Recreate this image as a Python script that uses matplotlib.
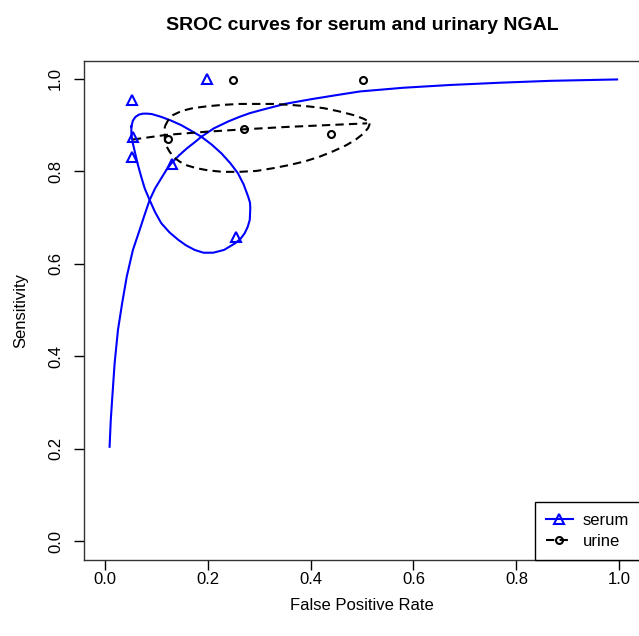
import matplotlib
matplotlib.use('Agg')
import matplotlib.pyplot as plt

plt.rcParams['font.family'] = ['Liberation Sans', 'DejaVu Sans']

# study points
serum_fpr = [0.054, 0.199, 0.055, 0.054, 0.130, 0.256]
serum_sens = [0.955, 1.000, 0.874, 0.832, 0.816, 0.659]
urine_fpr = [0.250, 0.502, 0.270, 0.440, 0.123]
urine_sens = [0.998, 0.998, 0.892, 0.881, 0.870]

# SROC curves
serum_sroc_fpr = [0.0097, 0.012, 0.015, 0.0195, 0.026, 0.034, 0.043, 0.055, 0.068, 0.078,
                  0.0875, 0.098, 0.110, 0.120, 0.130, 0.145, 0.160, 0.175, 0.188, 0.212,
                  0.240, 0.262, 0.282, 0.305, 0.350, 0.400, 0.450, 0.496,
                  0.580, 0.671, 0.770, 0.866, 0.9955]
serum_sroc_sens = [0.204, 0.262, 0.312, 0.385, 0.457, 0.514, 0.572, 0.630, 0.673, 0.707,
                   0.738, 0.763, 0.785, 0.803, 0.818, 0.835, 0.850, 0.863, 0.875, 0.893,
                   0.908, 0.918, 0.926, 0.933, 0.946, 0.956, 0.965, 0.973,
                   0.981, 0.987, 0.992, 0.996, 0.999]
urine_sroc_fpr = [0.055, 0.120, 0.200, 0.270, 0.350, 0.430, 0.510]
urine_sroc_sens = [0.869, 0.879, 0.886, 0.891, 0.896, 0.900, 0.904]

# confidence regions
serum_ell_fpr = [0.052, 0.055, 0.060, 0.067, 0.0745, 0.083, 0.092, 0.110, 0.129, 0.149,
                 0.168, 0.188, 0.208, 0.227, 0.244, 0.259, 0.270, 0.279, 0.2825,
                 0.283, 0.282, 0.278, 0.272, 0.264, 0.253, 0.232, 0.211, 0.192, 0.175,
                 0.158, 0.143, 0.126, 0.110, 0.098,
                 0.0875, 0.078, 0.071, 0.064, 0.058, 0.054, 0.052, 0.052]
serum_ell_sens = [0.897, 0.910, 0.918, 0.923, 0.925, 0.925, 0.924, 0.918, 0.910, 0.900,
                  0.888, 0.875, 0.858, 0.839, 0.818, 0.796, 0.772, 0.745, 0.732,
                  0.720, 0.695, 0.680, 0.666, 0.654, 0.644, 0.630, 0.624, 0.624, 0.630,
                  0.640, 0.652, 0.668, 0.688, 0.712,
                  0.738, 0.763, 0.789, 0.817, 0.846, 0.865, 0.882, 0.897]
urine_ell_fpr = [0.117, 0.123, 0.133, 0.150, 0.172, 0.200, 0.230, 0.262, 0.295, 0.328,
                 0.360, 0.393, 0.425, 0.455, 0.483, 0.503, 0.516, 0.512, 0.503,
                 0.488, 0.470, 0.445, 0.418, 0.390, 0.360, 0.328, 0.295, 0.262, 0.230,
                 0.202, 0.178, 0.160, 0.146, 0.134, 0.126, 0.120, 0.117, 0.117]
urine_ell_sens = [0.897, 0.910, 0.922, 0.931, 0.937, 0.941, 0.944, 0.946, 0.946, 0.946,
                  0.944, 0.941, 0.937, 0.930, 0.922, 0.914, 0.906, 0.894, 0.882,
                  0.869, 0.857, 0.844, 0.832, 0.822, 0.814, 0.807, 0.801, 0.799, 0.799,
                  0.802, 0.807, 0.813, 0.821, 0.831, 0.843, 0.855, 0.868, 0.897]

title = "SROC curves for serum and urinary NGAL"
xlabel = "False Positive Rate"
ylabel = "Sensitivity"
ticks = [0.0, 0.2, 0.4, 0.6, 0.8, 1.0]
tick_labels = ["0.0", "0.2", "0.4", "0.6", "0.8", "1.0"]

fig = plt.figure(figsize=(6.39, 6.36), dpi=100)
ax = fig.add_axes([84/639, 1-559.5/636, 556/639, 499/636])

blue = '#0000ff'
dash = (4, 2.5)

ax.plot(serum_sroc_fpr, serum_sroc_sens, color=blue, lw=1.5)
ax.plot(serum_ell_fpr, serum_ell_sens, color=blue, lw=1.5)
ax.plot(urine_sroc_fpr, urine_sroc_sens, color='black', lw=1.5, dashes=dash)
ax.plot(urine_ell_fpr, urine_ell_sens, color='black', lw=1.5, dashes=dash)

ax.plot(serum_fpr, serum_sens, ls='none', marker='^', ms=7, mfc='none', mec=blue, mew=1.5)
ax.plot(urine_fpr, urine_sens, ls='none', marker='o', ms=5, mfc='none', mec='black', mew=1.5)

ax.set_xlim(-0.04, 1.04)
ax.set_ylim(-0.04, 1.04)
ax.set_xticks(ticks)
ax.set_xticklabels(tick_labels)
ax.set_yticks(ticks)
ax.set_yticklabels(tick_labels, rotation=90, va='center')
ax.tick_params(axis='both', direction='out', length=7, width=1, labelsize=12, colors='black')
ax.tick_params(axis='x', pad=2)
ax.tick_params(axis='y', pad=8)
for s in ax.spines.values():
    s.set_linewidth(1)
    s.set_color('#333333')

ax.set_xlabel(xlabel, fontsize=12, labelpad=8)
ax.set_ylabel(ylabel, fontsize=12, labelpad=14)
ax.set_title(title, fontsize=14, fontweight='bold', pad=22)

# legend
h1, = ax.plot([], [], color=blue, lw=1.5, marker='^', ms=7, mfc='none', mec=blue, mew=1.5)
h2, = ax.plot([], [], color='black', lw=1.5, dashes=dash, marker='o', ms=5, mfc='none', mec='black', mew=1.5)
leg = ax.legend([h1, h2], ['serum', 'urine'], loc='lower right', bbox_to_anchor=(1.0, 0.0),
                borderaxespad=0, fancybox=False, framealpha=1, edgecolor='black',
                fontsize=12, handlelength=1.6, borderpad=0.65, labelspacing=0.35,
                handletextpad=0.6)
leg.get_frame().set_linewidth(1)

fig.savefig('out.png', dpi=100)
